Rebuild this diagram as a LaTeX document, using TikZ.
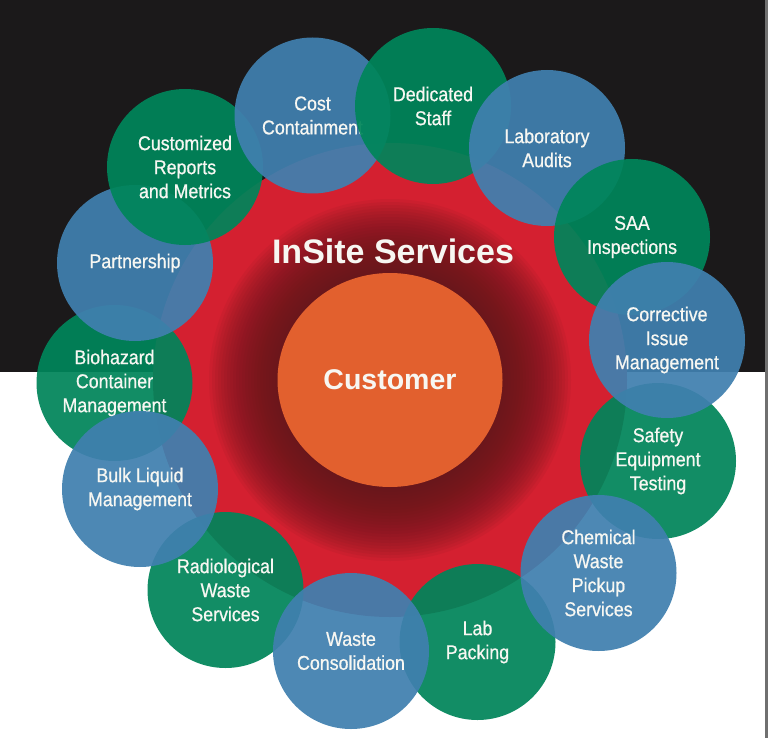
\documentclass[tikz,border=0pt]{standalone}
\usepackage{fontspec}
\setmainfont{Liberation Sans}
\newfontfamily\labfont[FakeStretch=0.89,FakeBold=0.7]{Liberation Sans}
\usetikzlibrary{shapes.geometric}
\definecolor{bgblack}{HTML}{1B191A}
\definecolor{edgegray}{HTML}{707070}
\definecolor{insred}{HTML}{D42030}
\definecolor{dkred}{HTML}{5E161B}
\definecolor{insorange}{HTML}{E2602E}
\definecolor{insgreen}{HTML}{00855A}
\definecolor{insblue}{HTML}{4080AF}
\definecolor{txtwhite}{HTML}{F7F7F2}
\tikzset{
  sat/.style={circle, minimum size=156pt, inner sep=0pt, align=center, text=txtwhite,
    font=\labfont\fontsize{20}{24}\selectfont, fill opacity=0.93, text opacity=1},
  gsat/.style={sat, fill=insgreen},
  bsat/.style={sat, fill=insblue},
  glowring/.style={fill=dkred, fill opacity=0.075},
}
\begin{document}
\begin{tikzpicture}[x=1pt,y=-1pt]
\useasboundingbox (0,0) rectangle (768,738);
\fill[bgblack] (0,0) rectangle (768,372);
\fill[white] (0,372) rectangle (768,738);
\fill[edgegray] (765,0) rectangle (768,738);
% big red circle with a dark glow round the centre
\node[circle, minimum size=474pt, inner sep=0pt, fill=insred] (ring) at (390,380) {};
\foreach \r in {181,178,...,106} {
  \fill[glowring] (ring.center) circle (\r);
}
\node[text=txtwhite, font=\bfseries\fontsize{34}{40}\selectfont] (services) at (393,251) {InSite Services};
\node[ellipse, minimum width=225pt, minimum height=214pt, inner sep=0pt, fill=insorange,
  text=txtwhite, font=\bfseries\fontsize{28.5}{34}\selectfont] (customer) at (390,380) {Customer};
% satellites
\node[gsat] (bio) at (114.5,383) {Biohazard\\Container\\Management};
\node[bsat] (partner) at (135,263) {Partnership};
\node[gsat] (reports) at (185,167) {Customized\\Reports\\and Metrics};
\node[bsat] (cost) at (312.5,115.5) {Cost\\Containment};
\node[gsat] (staff) at (433,106) {Dedicated\\Staff};
\node[bsat] (audits) at (547,148) {Laboratory\\Audits};
\node[gsat] (saa) at (632,237) {SAA\\Inspections};
\node[gsat] (safety) at (658,461) {Safety\\Equipment\\Testing};
\node[bsat] (corrective) at (667,340) {Corrective\\Issue\\Management};
\node[gsat] (labpack) at (477.5,642) {Lab\\Packing};
\node[bsat] (chemical) at (598.5,573) {Chemical\\Waste\\Pickup\\Services};
\node[gsat] (radio) at (225.5,590) {Radiological\\Waste\\Services};
\node[bsat] (consol) at (351,651) {Waste\\Consolidation};
\node[bsat] (bulk) at (140,489) {Bulk Liquid\\Management};
\end{tikzpicture}
\end{document}
